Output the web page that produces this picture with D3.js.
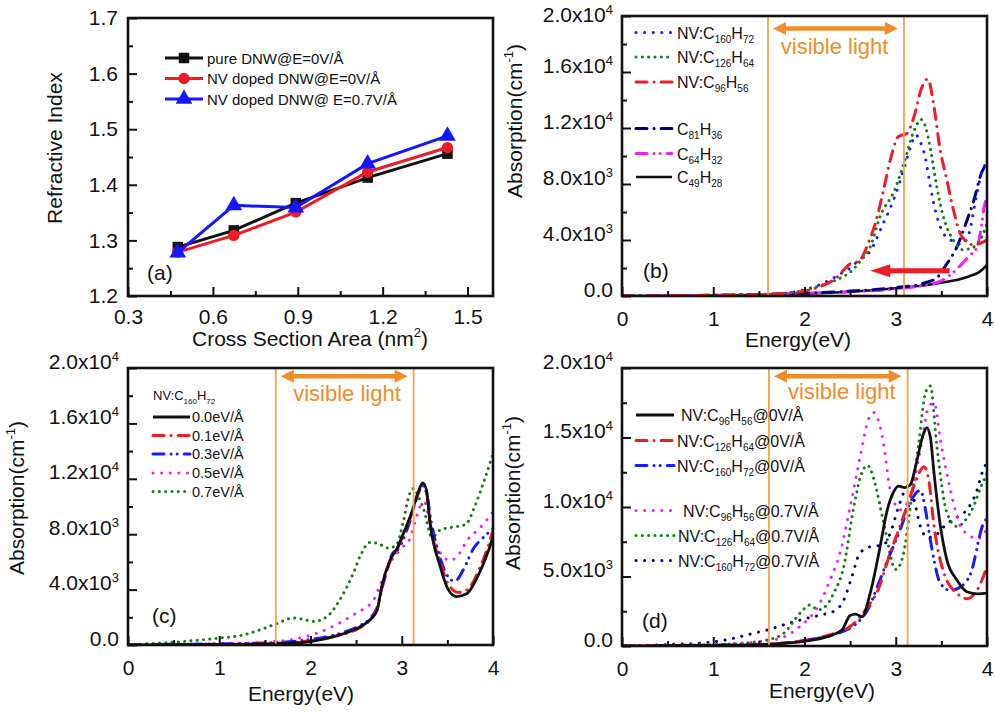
<!DOCTYPE html>
<html><head><meta charset="utf-8">
<script src="https://cdn.jsdelivr.net/npm/d3@7"></script>
<style>
body{margin:0;background:#fff}
svg text{font-family:"Liberation Sans",Arial,Helvetica,sans-serif;fill:#111}
</style>
</head><body>
<script>
// ---------------- DATA ----------------
// Panel (a): refractive index vs cross-section area
const areaX   = [0.476, 0.674, 0.893, 1.147, 1.429];
const pureDNW0 = [1.288, 1.318, 1.367, 1.413, 1.456];
const nvDNW0   = [1.279, 1.309, 1.351, 1.423, 1.467];
const nvDNW07  = [1.278, 1.363, 1.359, 1.438, 1.488];
const legendA = ["pure DNW@E=0V/Å", "NV doped DNW@E=0V/Å", "NV doped DNW@ E=0.7V/Å"];
const xTicksA = [0.3, 0.6, 0.9, 1.2, 1.5];
const xMinorA = [0.45, 0.75, 1.05, 1.35];
const yTicksA = [1.2, 1.3, 1.4, 1.5, 1.6, 1.7];
const yMinorA = [1.25, 1.35, 1.45, 1.55, 1.65];

// Energy axes (eV)
const xTicksE = [0, 1, 2, 3, 4];
const xMinorE = [0.5, 1.5, 2.5, 3.5];

// Absorption values in units of 10^3 cm^-1, as [energy, absorption]
// Panel (b)
const bC160H72 = [[0,0],[0.5,0.02],[1,0.05],[1.5,0.1],[1.8,0.2],[2.0,0.45],[2.2,0.9],[2.4,1.6],[2.5,2.0],[2.6,2.6],[2.72,3.2],[2.85,5.0],[2.99,7.1],[3.1,9.3],[3.17,10.8],[3.22,11.5],[3.27,11.0],[3.32,10.0],[3.38,7.8],[3.45,5.7],[3.52,4.5],[3.63,3.9],[3.72,3.7],[3.8,4.4],[3.88,7.0],[3.95,9.0],[4.0,9.5]];
const bC126H64 = [[0,0],[0.5,0.02],[1,0.05],[1.5,0.1],[1.8,0.2],[2.0,0.4],[2.2,0.8],[2.4,1.3],[2.5,1.7],[2.6,2.4],[2.72,3.5],[2.83,5.7],[2.99,7.6],[3.1,9.7],[3.2,11.8],[3.28,12.6],[3.33,12.0],[3.38,10.5],[3.45,7.8],[3.52,5.7],[3.63,4.0],[3.74,3.3],[3.89,3.65],[4.0,5.2]];
const bC96H56  = [[0,0],[0.5,0.02],[1,0.05],[1.5,0.1],[1.8,0.2],[2.0,0.35],[2.2,0.75],[2.35,1.3],[2.5,2.3],[2.6,2.5],[2.7,3.8],[2.79,5.5],[2.86,7.4],[2.94,9.7],[3.03,11.4],[3.12,11.6],[3.2,12.8],[3.28,14.8],[3.35,15.5],[3.42,13.5],[3.48,10.7],[3.56,8.3],[3.63,6.2],[3.72,4.3],[3.85,3.65],[3.92,3.75],[4.0,4.0]];
const bC81H36  = [[0,0],[1,0.05],[2,0.2],[2.5,0.35],[3,0.6],[3.3,0.9],[3.45,1.3],[3.55,2.2],[3.67,3.5],[3.78,5.4],[3.85,6.7],[3.94,8.8],[4.0,9.5]];
const bC64H32  = [[0,0],[1,0.05],[2,0.2],[2.5,0.3],[3,0.5],[3.3,0.75],[3.52,1.15],[3.65,1.8],[3.74,2.4],[3.83,3.0],[3.89,3.5],[3.94,5.0],[3.97,6.4],[4.0,7.0]];
const bC49H28  = [[0,0],[1,0.03],[2,0.15],[2.5,0.3],[3,0.55],[3.3,0.75],[3.5,0.95],[3.7,1.2],[3.8,1.4],[3.9,1.65],[3.95,1.9],[4.0,2.2]];
const legendB = ["NV:C_{160}H_{72}", "NV:C_{126}H_{64}", "NV:C_{96}H_{56}", "C_{81}H_{36}", "C_{64}H_{32}", "C_{49}H_{28}"];

// Panel (c): NV:C160H72 under fields
const c00 = [[0,0],[0.5,0.02],[1,0.04],[1.5,0.08],[1.8,0.15],[2.0,0.25],[2.25,0.6],[2.4,0.9],[2.54,1.3],[2.65,1.8],[2.73,2.5],[2.78,4.2],[2.87,6.1],[2.95,7.0],[3.02,8.07],[3.1,9.4],[3.18,11.0],[3.23,11.7],[3.27,11.2],[3.31,8.8],[3.42,5.7],[3.51,4.0],[3.6,3.5],[3.71,3.7],[3.85,5.2],[3.95,6.8],[4.0,7.8]];
const c01 = [[0,0],[0.5,0.03],[1,0.05],[1.5,0.1],[1.8,0.18],[2.0,0.3],[2.25,0.6],[2.4,0.85],[2.54,1.25],[2.65,1.8],[2.73,2.6],[2.78,4.1],[2.87,6.0],[2.95,6.9],[3.02,8.0],[3.1,9.3],[3.18,10.9],[3.23,11.6],[3.27,11.1],[3.31,8.9],[3.42,6.0],[3.51,4.4],[3.62,3.8],[3.72,4.0],[3.85,5.5],[3.95,7.2],[4.0,8.3]];
const c03 = [[0,0],[0.5,0.05],[1,0.08],[1.5,0.15],[1.8,0.25],[2.0,0.4],[2.25,0.7],[2.4,1.0],[2.54,1.4],[2.65,1.9],[2.73,2.7],[2.8,4.5],[2.9,6.6],[2.97,7.0],[3.05,8.2],[3.12,9.6],[3.18,11.0],[3.23,11.5],[3.27,11.0],[3.32,9.0],[3.42,6.3],[3.5,5.0],[3.58,4.6],[3.68,5.5],[3.78,6.9],[3.9,7.8],[4.0,8.4]];
const c05 = [[0,0],[0.5,0.05],[1,0.1],[1.5,0.2],[1.8,0.4],[2.07,0.85],[2.32,1.6],[2.5,2.3],[2.69,3.25],[2.78,4.6],[2.89,6.1],[3.0,7.0],[3.09,7.7],[3.15,9.0],[3.2,10.0],[3.25,10.3],[3.3,9.0],[3.4,6.9],[3.53,6.1],[3.62,6.5],[3.72,7.6],[3.85,8.4],[4.0,9.6]];
const c07 = [[0,0],[0.24,0.1],[0.5,0.2],[0.79,0.36],[1.0,0.5],[1.26,0.72],[1.45,1.1],[1.63,1.55],[1.81,1.95],[1.92,1.85],[2.03,1.7],[2.18,2.05],[2.32,3.25],[2.47,5.2],[2.55,6.5],[2.65,7.4],[2.75,7.3],[2.85,7.0],[2.94,7.2],[3.02,9.0],[3.08,10.8],[3.13,11.3],[3.19,10.6],[3.24,9.8],[3.33,7.8],[3.42,8.3],[3.55,8.5],[3.7,8.7],[3.8,10.0],[3.9,11.8],[4.0,13.8]];
const legendCTitle = "NV:C_{160}H_{72}";
const legendC = ["0.0eV/Å", "0.1eV/Å", "0.3eV/Å", "0.5eV/Å", "0.7eV/Å"];

// Panel (d)
const dC96H56_0  = [[0,0],[0.5,0.02],[1,0.05],[1.5,0.1],[1.95,0.3],[2.25,0.67],[2.41,1.15],[2.5,2.2],[2.56,2.3],[2.63,2.1],[2.72,3.8],[2.83,7.2],[2.9,9.6],[2.97,11.0],[3.03,11.5],[3.1,11.4],[3.16,11.6],[3.22,13.0],[3.3,15.2],[3.34,15.7],[3.38,15.0],[3.42,12.4],[3.49,8.6],[3.56,6.2],[3.67,4.75],[3.78,3.9],[3.9,3.75],[4.0,3.8]];
const dC126H64_0 = [[0,0],[0.5,0.03],[1,0.06],[1.5,0.1],[2.0,0.4],[2.32,0.9],[2.5,1.4],[2.61,2.1],[2.7,2.9],[2.79,3.8],[2.94,6.7],[3.1,9.6],[3.2,11.5],[3.31,12.9],[3.36,12.0],[3.42,8.6],[3.53,5.2],[3.67,3.8],[3.78,3.4],[3.89,4.0],[4.0,5.7]];
const dC160H72_0 = [[0,0],[0.5,0.03],[1,0.06],[1.5,0.1],[2.0,0.4],[2.3,0.8],[2.5,1.3],[2.6,1.8],[2.7,2.7],[2.8,4.3],[2.9,6.0],[3.05,8.4],[3.15,10.2],[3.27,11.2],[3.32,10.0],[3.38,7.6],[3.49,4.5],[3.6,4.0],[3.72,4.3],[3.82,5.2],[3.96,8.8],[4.0,9.2]];
const dC96H56_7  = [[0,0],[0.5,0.05],[1.0,0.1],[1.4,0.25],[1.66,0.43],[1.95,1.4],[2.17,3.1],[2.28,4.75],[2.39,6.7],[2.5,10.0],[2.61,13.6],[2.7,16.3],[2.76,16.8],[2.82,16.0],[2.87,14.4],[2.94,11.2],[3.05,9.8],[3.16,10.8],[3.28,14.5],[3.36,17.2],[3.42,17.5],[3.49,14.8],[3.6,11.2],[3.71,8.6],[3.8,8.0],[3.89,7.7],[4.0,8.4]];
const dC126H64_7 = [[0,0],[0.5,0.05],[1.0,0.1],[1.4,0.25],[1.59,0.43],[1.77,0.9],[1.95,2.35],[2.06,2.95],[2.15,2.6],[2.25,3.0],[2.32,3.8],[2.43,5.7],[2.54,10.0],[2.62,12.3],[2.69,13.0],[2.76,12.0],[2.87,8.8],[3.0,5.5],[3.08,6.5],[3.16,10.0],[3.25,14.5],[3.33,18.3],[3.38,18.7],[3.45,14.4],[3.56,9.6],[3.67,8.6],[3.78,9.2],[3.85,10.0],[3.93,11.4],[4.0,12.4]];
const dC160H72_7 = [[0,0],[0.5,0.1],[1.0,0.3],[1.22,0.55],[1.4,0.85],[1.59,1.15],[1.81,1.6],[2.03,2.0],[2.25,2.35],[2.35,2.6],[2.43,3.3],[2.52,5.0],[2.6,6.6],[2.7,7.1],[2.87,7.3],[2.95,8.3],[3.03,10.0],[3.14,11.5],[3.2,10.5],[3.27,8.6],[3.35,7.8],[3.42,7.9],[3.56,8.8],[3.68,9.3],[3.78,9.8],[3.88,11.0],[3.96,12.7],[4.0,13.2]];
const legendD = ["NV:C_{96}H_{56}@0V/Å", "NV:C_{126}H_{64}@0V/Å", "NV:C_{160}H_{72}@0V/Å", "NV:C_{96}H_{56}@0.7V/Å", "NV:C_{126}H_{64}@0.7V/Å", "NV:C_{160}H_{72}@0.7V/Å"];

// absorption ticks (10^3 cm^-1) and their labels
const yTicksBC = [0, 4, 8, 12, 16, 20];
const yMinorBC = [2, 6, 10, 14, 18];
const yLabelsBC = ["0.0", "4.0x10^{3}", "8.0x10^{3}", "1.2x10^{4}", "1.6x10^{4}", "2.0x10^{4}"];
const yTicksD = [0, 5, 10, 15, 20];
const yMinorD = [2.5, 7.5, 12.5, 17.5];
const yLabelsD = ["0.0", "5.0x10^{3}", "1.0x10^{4}", "1.5x10^{4}", "2.0x10^{4}"];

// visible light band edges (eV) per panel
const visibleB = [1.6, 3.09];
const visibleC = [1.62, 3.13];
const visibleD = [1.61, 3.13];

// ---------------- DRAWING ----------------
const W = 995, H = 712;
const svg = d3.select("body").append("svg").attr("width", W).attr("height", H);
const ORANGE_L = "#f3a34f", ORANGE = "#f28c28";
const C = {black:"#111", red:"#ee1c24", blue:"#1a1aff", navy:"#00007a", magenta:"#f020f0", green:"#187d18"};
const DOT9 = "0.1,8.5", DOT6 = "0.1,6.2", DD = "11,7,0.1,7", DDD = "11,7,0.1,6,0.1,7";

function rich(sel, str, base, small, subShift, supShift) {
  const re = /_\{([^}]*)\}|\^\{([^}]*)\}|([^_^]+)/g;
  let m, cur = 0;
  while ((m = re.exec(str))) {
    let t, size, off;
    if (m[1] !== undefined) { t = m[1]; size = small; off = subShift; }
    else if (m[2] !== undefined) { t = m[2]; size = small; off = -supShift; }
    else { t = m[3]; size = base; off = 0; }
    sel.append("tspan").attr("font-size", size).attr("dy", off - cur).text(t);
    cur = off;
  }
}

function makePanel(f, xd, yd, ticks, idName) {
  const x = d3.scaleLinear().domain(xd).range([f.l, f.r]);
  const y = d3.scaleLinear().domain(yd).range([f.b, f.t]);
  svg.append("clipPath").attr("id", idName).append("rect")
    .attr("x", f.l).attr("y", f.t).attr("width", f.r - f.l).attr("height", f.b - f.t);
  const g = svg.append("g");
  const plot = g.append("g").attr("clip-path", `url(#${idName})`);
  return {x, y, g, plot, f, ticks};
}

function drawAxes(P, opt) {
  const {x, y, g, f, ticks} = P;
  g.append("g").attr("transform", `translate(0,${f.b})`)
    .call(d3.axisBottom(x).tickValues(ticks.xMajor).tickSize(-9).tickPadding(opt.xPad).tickFormat(opt.xFmt));
  g.append("g").attr("transform", `translate(0,${f.b})`)
    .call(d3.axisBottom(x).tickValues(ticks.xMinor).tickSize(-5).tickFormat(""));
  const ay = g.append("g").attr("transform", `translate(${f.l},0)`)
    .call(d3.axisLeft(y).tickValues(ticks.yMajor).tickSize(-9).tickPadding(opt.yPad).tickFormat(opt.yFmt));
  g.append("g").attr("transform", `translate(${f.l},0)`)
    .call(d3.axisLeft(y).tickValues(ticks.yMinor).tickSize(-5).tickFormat(""));
  g.selectAll(".domain").remove();
  g.selectAll(".tick line").attr("stroke", "#111").attr("stroke-width", 2);
  g.selectAll(".tick text").attr("font-size", 21).attr("fill", "#111")
    .attr("font-family", '"Liberation Sans",Arial,sans-serif');
  if (opt.yRich) {
    ay.selectAll(".tick text").each(function(d, i) {
      const s = d3.select(this); s.text(null);
      rich(s, opt.yRich[i], 21, 13, 0, 8);
    });
  }
  if (opt.topShift) {
    const top = ticks.yMajor[ticks.yMajor.length - 1];
    ay.selectAll(".tick").filter(d => d === top).select("text")
      .attr("transform", `translate(0,${opt.topShift})`);
  }
  g.append("rect").attr("x", f.l).attr("y", f.t).attr("width", f.r - f.l).attr("height", f.b - f.t)
    .attr("fill", "none").attr("stroke", "#111").attr("stroke-width", 2.6);
}

function curve(P, data, st) {
  const line = d3.line().x(d => P.x(d[0])).y(d => P.y(d[1])).curve(d3.curveMonotoneX);
  P.plot.append("path").datum(data).attr("d", line).attr("fill", "none")
    .attr("stroke", st.c).attr("stroke-width", st.w || 2.6)
    .attr("stroke-dasharray", st.d || null).attr("stroke-linecap", st.d ? "round" : "butt")
    .attr("stroke-linejoin", "round");
}

function legendLine(g, x1, x2, yy, st) {
  g.append("line").attr("x1", x1).attr("x2", x2).attr("y1", yy).attr("y2", yy)
    .attr("stroke", st.c).attr("stroke-width", st.w || 2.8)
    .attr("stroke-dasharray", st.d || null).attr("stroke-linecap", st.d ? "round" : "butt");
}

function visible(P, band, arrowV, textV, textE) {
  const {x, y, g} = P;
  band.forEach(e => g.append("line").attr("x1", x(e)).attr("x2", x(e)).attr("y1", P.f.t).attr("y2", P.f.b)
    .attr("stroke", ORANGE_L).attr("stroke-width", 1.8));
  const ay = y(arrowV), x1 = x(band[0]) + 5, x2 = x(band[1]) - 6, hl = 13, hw = 6.5;
  g.append("line").attr("x1", x1 + hl - 2).attr("x2", x2 - hl + 2).attr("y1", ay).attr("y2", ay)
    .attr("stroke", ORANGE).attr("stroke-width", 4.5);
  g.append("path").attr("d", `M${x1},${ay}L${x1 + hl},${ay - hw}L${x1 + hl},${ay + hw}Z`).attr("fill", ORANGE);
  g.append("path").attr("d", `M${x2},${ay}L${x2 - hl},${ay - hw}L${x2 - hl},${ay + hw}Z`).attr("fill", ORANGE);
  g.append("text").attr("x", x(textE)).attr("y", y(textV)).attr("text-anchor", "middle")
    .attr("font-size", 22).style("fill", ORANGE).text("visible light");
}

function label(g, xx, yy, str, size, rot, anchor) {
  const t = g.append("text").attr("font-size", size).attr("text-anchor", anchor || "middle");
  if (rot) t.attr("transform", `translate(${xx},${yy}) rotate(-90)`).attr("dy", "0.35em");
  else t.attr("x", xx).attr("y", yy);
  rich(t, str, size, Math.round(size * 0.62), 4, Math.round(size * 0.42));
  return t;
}

// ---------- Panel (a) ----------
{
  const P = makePanel({l:128, r:493, t:18, b:296}, [0.3, 1.59], [1.2, 1.7],
    {xMajor:xTicksA, xMinor:xMinorA, yMajor:yTicksA, yMinor:yMinorA}, "clipA");
  const ser = [
    {v: pureDNW0, c: C.black, m: "square"},
    {v: nvDNW0, c: C.red, m: "circle"},
    {v: nvDNW07, c: "#1515ff", m: "triangle"}
  ];
  const sym = {square: d3.symbolSquare, circle: d3.symbolCircle, triangle: d3.symbolTriangle};
  const size = {square: 110, circle: 100, triangle: 120};
  ser.forEach(s => {
    const pts = areaX.map((a, i) => [a, s.v[i]]);
    P.g.append("path").datum(pts).attr("d", d3.line().x(d => P.x(d[0])).y(d => P.y(d[1])))
      .attr("fill", "none").attr("stroke", s.c).attr("stroke-width", 3);
    P.g.selectAll(null).data(pts).enter().append("path")
      .attr("transform", d => `translate(${P.x(d[0])},${P.y(d[1])})`)
      .attr("d", d3.symbol().type(sym[s.m]).size(size[s.m])).attr("fill", s.c);
  });
  drawAxes(P, {xPad: 13, yPad: 10, xFmt: d3.format(".1f"), yFmt: d3.format(".1f")});
  // legend
  ser.forEach((s, i) => {
    const yy = 58 + i * 20.5;
    legendLine(P.g, 165, 203, yy, {c: s.c, w: 3});
    P.g.append("path").attr("transform", `translate(184,${yy})`)
      .attr("d", d3.symbol().type(sym[s.m]).size(size[s.m])).attr("fill", s.c);
    P.g.append("text").attr("x", 207).attr("y", yy + 5.5).attr("font-size", 15).text(legendA[i]);
  });
  label(P.g, 147, 280, "(a)", 21, false, "start");
  label(svg, 62, 148, "Refractive Index", 21, true);
  label(svg, 310, 346, "Cross Section Area (nm^{2})", 21, false);
}

// ---------- Panel (b) ----------
{
  const P = makePanel({l:622, r:987, t:16, b:296}, [0, 4], [0, 20],
    {xMajor:xTicksE, xMinor:xMinorE, yMajor:yTicksBC, yMinor:yMinorBC}, "clipB");
  visible(P, visibleB, 19.1, 17.3, 2.33);
  const st = [
    {c: C.blue, d: DOT9, w: 3}, {c: C.green, d: DOT6, w: 3}, {c: C.red, d: DD, w: 3},
    {c: C.navy, d: DD, w: 3}, {c: C.magenta, d: DDD, w: 3}, {c: C.black, w: 2.6}
  ];
  const series = [bC160H72, bC126H64, bC96H56, bC81H36, bC64H32, bC49H28];
  [5, 4, 3, 0, 1, 2].forEach(i => curve(P, series[i], st[i]));
  // red arrow
  const ay = P.y(1.81), xt = P.x(2.72), xe = P.x(3.59);
  P.g.append("line").attr("x1", xt + 16).attr("x2", xe).attr("y1", ay).attr("y2", ay)
    .attr("stroke", C.red).attr("stroke-width", 5);
  P.g.append("path").attr("d", `M${xt},${ay}L${xt + 20},${ay - 6.5}L${xt + 20},${ay + 6.5}Z`).attr("fill", C.red);
  drawAxes(P, {xPad: 15, yPad: 9, xFmt: d3.format("d"), yFmt: d => "", yRich: yLabelsBC, topShift: 5});
  const rows = [32.5, 57, 82, 128.5, 153.5, 177];
  rows.forEach((yy, i) => {
    legendLine(P.g, 636, 672, yy, st[i]);
    label(P.g, 677, yy + 6, legendB[i], 16, false, "start");
  });
  label(P.g, 643, 278, "(b)", 21, false, "start");
  label(svg, 522, 121, "Absorption(cm^{-1})", 21, true);
  label(svg, 798, 347, "Energy(eV)", 21, false);
}

// ---------- Panel (c) ----------
{
  const P = makePanel({l:128, r:493, t:368, b:645}, [0, 4], [0, 20],
    {xMajor:xTicksE, xMinor:xMinorE, yMajor:yTicksBC, yMinor:yMinorBC}, "clipC");
  visible(P, visibleC, 19.4, 17.6, 2.4);
  const st = [
    {c: C.black, w: 2.8}, {c: C.red, d: DD, w: 3}, {c: C.blue, d: DDD, w: 3},
    {c: C.magenta, d: DOT9, w: 3}, {c: C.green, d: DOT6, w: 3}
  ];
  const series = [c00, c01, c03, c05, c07];
  [4, 3, 2, 1, 0].forEach(i => curve(P, series[i], st[i]));
  drawAxes(P, {xPad: 15, yPad: 9, xFmt: d3.format("d"), yFmt: d => "", yRich: yLabelsBC});
  label(P.g, 153, 400, legendCTitle, 13, false, "start");
  const rows = [417, 435.5, 454, 473, 491.5];
  rows.forEach((yy, i) => {
    legendLine(P.g, 153, 190, yy, st[i]);
    P.g.append("text").attr("x", 192).attr("y", yy + 5).attr("font-size", 14.5).text(legendC[i]);
  });
  label(P.g, 152, 623, "(c)", 21, false, "start");
  label(svg, 24, 498, "Absorption(cm^{-1})", 21, true);
  label(svg, 301, 701, "Energy(eV)", 21, false);
}

// ---------- Panel (d) ----------
{
  const P = makePanel({l:622, r:987, t:368, b:646}, [0, 4], [0, 20],
    {xMajor:xTicksE, xMinor:xMinorE, yMajor:yTicksD, yMinor:yMinorD}, "clipD");
  visible(P, visibleD, 19.4, 17.8, 2.41);
  const st = [
    {c: C.black, w: 2.8}, {c: C.red, d: DD, w: 3}, {c: C.blue, d: DDD, w: 3},
    {c: C.magenta, d: DOT9, w: 3}, {c: C.green, d: DOT6, w: 3}, {c: C.navy, d: DOT9, w: 3}
  ];
  const series = [dC96H56_0, dC126H64_0, dC160H72_0, dC96H56_7, dC126H64_7, dC160H72_7];
  [5, 4, 3, 2, 1, 0].forEach(i => curve(P, series[i], st[i]));
  drawAxes(P, {xPad: 15, yPad: 9, xFmt: d3.format("d"), yFmt: d => "", yRich: yLabelsD});
  const rows = [415, 440.5, 465.5, 510.5, 535.5, 560.5];
  const tx = [681, 677, 677, 683, 678, 678];
  rows.forEach((yy, i) => {
    legendLine(P.g, 636, 674, yy, st[i]);
    label(P.g, tx[i], yy + 6, legendD[i], 16, false, "start");
  });
  label(P.g, 642, 628, "(d)", 21, false, "start");
  label(svg, 520, 493, "Absorption(cm^{-1})", 21, true);
  label(svg, 822, 698, "Energy(eV)", 21, false);
}
</script>
</body></html>
